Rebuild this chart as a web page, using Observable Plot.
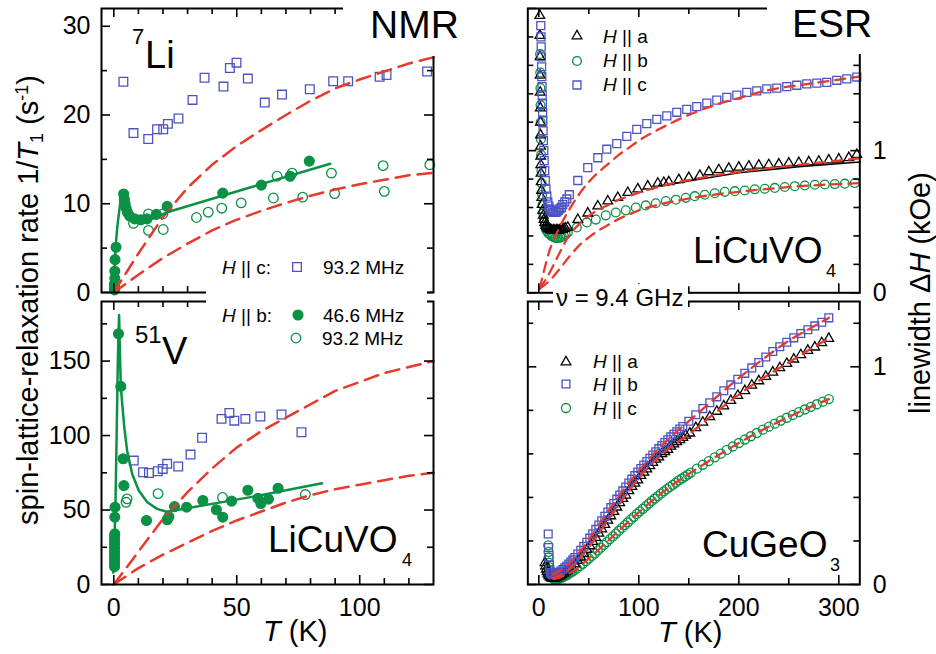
<!DOCTYPE html>
<html>
<head>
<meta charset="utf-8">
<script src="https://cdn.jsdelivr.net/npm/d3@7"></script>
<script src="https://cdn.jsdelivr.net/npm/@observablehq/plot@0.6"></script>
<style>
  html, body { margin: 0; padding: 0; background: #fff; }
  #fig { position: relative; width: 936px; height: 654px; overflow: hidden;
         font-family: 'Liberation Sans', Arial, Helvetica, sans-serif; color: #000; }
  .t { position: absolute; white-space: nowrap; line-height: 1; }
  .box { position: absolute; background: #fff; }
  .t sub, .t sup { font-size: 0.62em; line-height: 0; }
  .t sub { vertical-align: -0.28em; }
  .t sup { vertical-align: 0.55em; }
</style>
</head>
<body>
<div id="fig"></div>
<script>
// ---------- NMR: 7Li, 1/T1 (s^-1) vs T (K) ----------
const liC932 = [[3.9,23.75],[8.0,17.96],[14.0,17.3],[17.6,18.4],[20.1,18.4],[22.0,19.0],[26.3,19.6],[32.0,21.7],[36.9,24.2],[44.6,23.2],[47.2,25.3],[49.9,25.9],[54.5,24.1],[61.4,21.4],[68.4,22.3],[79.7,22.9],[89.2,23.8],[95.3,23.8],[108.1,24.3],[110.9,24.5],[127.4,24.9]];
const liB466 = [[0.3,0.3],[0.3,0.6],[0.3,1.0],[0.4,1.6],[0.4,2.4],[0.5,3.7],[0.9,5.1],[4.0,11.1],[4.3,10.5],[4.6,10.0],[5.0,9.5],[5.6,9.0],[6.5,8.6],[8.5,8.3],[11,8.2],[13.5,8.3],[17.3,8.8],[21.7,9.7],[44.3,11.2],[60.0,12.1],[71.7,13.1],[79.5,14.8]];
const liB932 = [[8.0,7.8],[14.1,8.85],[14.1,7.0],[19.9,8.85],[20.1,7.1],[33.6,8.45],[38.4,9.05],[43.9,9.5],[51.8,10.1],[64.9,10.65],[66.4,13.1],[72.5,13.45],[76.8,10.75],[88.5,13.45],[89.8,11.15],[109.5,14.3],[110.0,11.4],[128.5,14.4]];
const liFit = [[0,0.2],[0.7,5.1],[1.5,7.6],[3.0,10.9],[3.9,11.1],[4.8,9.6],[6.8,8.5],[9.5,8.1],[13.6,8.1],[17.6,8.5],[21.7,9.05],[55,11.8],[88,14.5]];
const liModelHi = [[0,0],[5,2.2],[10,4.4],[20,8.5],[30,11.8],[40,14.4],[50,16.5],[60,18.3],[70,20.0],[80,21.6],[90,23.0],[100,24.0],[110,24.9],[120,25.8],[130,26.5]];
const liModelLo = [[0,0],[10,2.0],[20,3.9],[30,5.5],[40,7.0],[50,8.2],[60,9.2],[70,10.1],[80,10.9],[90,11.6],[100,12.2],[110,12.7],[120,13.2],[130,13.5]];

// ---------- NMR: 51V ----------
const vC932 = [[8.1,83.2],[11.9,75.4],[14.3,74.9],[17.9,76.0],[19.9,77.6],[21.7,81.0],[26.2,79.2],[31.2,87.2],[35.9,98.5],[43.8,111.2],[47.0,115.2],[49.0,110.0],[53.5,111.2],[59.6,112.8],[68.2,114.1],[76.3,102.2]];
const vB466 = [[0.3,12],[0.3,14.5],[0.3,17],[0.3,19.5],[0.3,22],[0.3,24.5],[0.3,27],[0.3,29.5],[0.3,32],[0.4,34],[0.4,45.2],[0.5,51.9],[1.9,168.3],[2.85,133],[3.8,84.4],[4.1,66.4],[13.3,43],[21.7,43.5],[22.4,45.5],[24.7,52.3],[29.6,51.9],[36.2,56.4],[41.7,50.2],[44.3,45.2],[47.9,56],[54.5,63.3],[58.6,57.8],[59.8,54.4],[62.9,57.3],[66.8,64.6]];
const vB932 = [[5.0,55.2],[5.4,57.5],[18.0,61.0],[44.2,58.4],[77.9,60.4]];
const vFit = [[-0.2,8],[0.3,30],[0.7,56],[1.2,105],[1.6,146],[1.9,168],[2.15,181],[2.45,158],[2.85,133],[3.4,122],[4.3,105],[5.4,90],[7.5,74],[10.2,63],[13.6,55.2],[17.6,50.8],[21.5,48.8],[55,58.5],[84.7,68]];
const vModelHi = [[0,0],[10,22],[20,44],[30,62],[40,78],[50,92],[60,103],[70,112],[80,121],[90,130],[100,136],[110,142],[120,146],[130,150]];
const vModelLo = [[0,0],[10,11],[20,20],[30,28],[40,36],[50,43],[60,49],[70,55],[80,60],[90,64],[100,67],[110,70],[120,73],[130,75]];

// ---------- ESR: LiCuVO4 linewidth (kOe) ----------
const esrLA = [[1.0,1.95],[1.1,1.81],[1.2,1.66],[1.3,1.53],[1.4,1.41],[1.5,1.30],[1.6,1.2],[1.7,1.11],[1.8,1.03],[1.9,0.96],[2.0,0.9],[2.2,0.84],[2.4,0.78],[2.7,0.72],[3.0,0.67],[3.4,0.62],[3.9,0.58],[4.5,0.545],[5.2,0.515],[6,0.495],[7,0.475],[8,0.465],[9,0.455],[10,0.45],[11.5,0.445],[13,0.44],[14.5,0.44],[16,0.44],[17.5,0.44],[19,0.44],[20.5,0.44],[22,0.445],[23.5,0.445],[25,0.45],[26.5,0.455],
  [29,0.46],[39,0.515],[49,0.56],[59,0.61],[69,0.645],[79,0.67],[89,0.705],[99,0.73],[109,0.75],[119,0.77],[125,0.775],[130,0.78],[140,0.795],[150,0.81],[161,0.825],[170,0.85],[180,0.865],[190,0.875],[200,0.883],[210,0.89],[220,0.897],[230,0.90],[240,0.905],[250,0.912],[260,0.915],[270,0.92],[280,0.925],[290,0.933],[300,0.94],[310,0.95],[318,0.972]];
const esrLB = [[1.3,1.68],[1.45,1.55],[1.6,1.44],[1.75,1.32],[1.9,1.2],[2.1,1.08],[2.3,0.97],[2.6,0.86],[2.9,0.77],[3.3,0.69],[3.8,0.62],[4.4,0.56],[5.1,0.51],[6,0.475],[7,0.45],[8,0.435],[9.5,0.42],[11,0.41],[12.5,0.40],[14,0.395],[15.5,0.39],[17,0.385],[18.5,0.385],[20,0.385],[21.5,0.39],[23,0.395],[25,0.40],[27,0.41],
  [29,0.425],[38,0.46],[48,0.495],[57,0.515],[67,0.545],[77,0.565],[87,0.58],[97,0.60],[107,0.615],[117,0.63],[127,0.645],[137,0.655],[147,0.668],[156,0.68],[166,0.69],[176,0.70],[186,0.71],[196,0.715],[206,0.72],[216,0.728],[226,0.732],[236,0.738],[246,0.744],[256,0.75],[266,0.755],[276,0.76],[286,0.762],[296,0.765],[306,0.768],[316,0.772]];
const esrLC = [[2.0,1.88],[2.2,1.8],[2.4,1.73],[2.6,1.66],[2.8,1.59],[3.0,1.52],[3.2,1.45],[3.4,1.39],[3.6,1.33],[3.8,1.27],[4.0,1.21],[4.3,1.14],[4.6,1.07],[5.0,1.0],[5.4,0.93],[5.9,0.86],[6.5,0.79],[7.2,0.73],[8,0.68],[9,0.64],[10,0.61],[11,0.59],[12,0.58],[13.5,0.57],[15,0.565],[16.5,0.565],[18,0.57],[19.5,0.58],[21,0.59],[22.5,0.60],[24,0.62],[26,0.64],[28,0.66],[30.5,0.69],
  [39,0.79],[49,0.88],[59,0.95],[68,1.01],[78,1.05],[88,1.10],[98,1.15],[108,1.19],[118,1.22],[128,1.245],[138,1.27],[148,1.29],[158,1.31],[168,1.335],[178,1.355],[188,1.375],[198,1.39],[208,1.41],[218,1.42],[228,1.435],[238,1.44],[248,1.45],[258,1.46],[268,1.47],[278,1.475],[288,1.48],[298,1.495],[308,1.505],[318,1.518]];
const esrLFitA = [[125,0.755],[150,0.786],[200,0.845],[260,0.887],[321,0.92]];
const esrLModelA = [[1,0.03],[10,0.13],[20,0.27],[30,0.40],[40,0.48],[50,0.54],[60,0.585],[70,0.62],[80,0.655],[90,0.68],[100,0.705],[120,0.745],[140,0.78],[160,0.805],[180,0.83],[200,0.85],[220,0.868],[240,0.885],[260,0.90],[280,0.915],[300,0.93],[320,0.945]];
const esrLModelB = [[1,0.03],[10,0.08],[20,0.16],[30,0.25],[40,0.33],[50,0.39],[60,0.44],[70,0.48],[80,0.52],[90,0.55],[100,0.58],[120,0.62],[140,0.65],[160,0.675],[180,0.695],[200,0.71],[220,0.725],[240,0.738],[260,0.75],[280,0.758],[300,0.765],[320,0.772]];
const esrLModelC = [[1,0.03],[5,0.15],[10,0.28],[20,0.45],[30,0.58],[40,0.69],[50,0.78],[60,0.85],[70,0.91],[80,0.97],[90,1.02],[100,1.07],[120,1.15],[140,1.22],[160,1.28],[180,1.33],[200,1.37],[220,1.41],[240,1.44],[260,1.46],[280,1.48],[300,1.50],[320,1.52]];

// ---------- ESR: CuGeO3 linewidth (kOe) ----------
const esrGA = [[6.2,0.10],[6.8,0.085],[7.5,0.07],[8.3,0.058],[9.2,0.048],[10.2,0.04],[11.3,0.034],[12.5,0.03],[14,0.028],[15.5,0.028],[17,0.03],[19,0.034],[21,0.039],[23,0.045],[25,0.051],[27,0.058],[29,0.065],[31,0.073],[33,0.081],[36,0.095],[39,0.11],[42,0.125],[45,0.142],[48,0.16],[51,0.178],[54,0.197],[57,0.216],[60,0.235],[63,0.255],[66,0.275],[69,0.295],[72,0.315],[75,0.335],[78,0.355],[81,0.375],[84,0.395],[87,0.41],[90,0.43],[93,0.45],[96,0.465],[99,0.48],[102,0.50],[105,0.515],[108,0.53],[111,0.545],[114,0.56],[117,0.575],[120,0.585],[123,0.60],[126,0.61],[129,0.62],[132,0.635],[135,0.645],[138,0.655],[141,0.665],[144,0.675],[147,0.685],[151,0.695],[157,0.72],[164,0.745],[171,0.77],[178,0.795],[185,0.82],[192,0.845],[199,0.868],[206,0.89],[213,0.915],[220,0.935],[227,0.955],[234,0.975],[241,0.995],[248,1.015],[255,1.035],[262,1.055],[269,1.075],[276,1.09],[283,1.11],[290,1.13]];
const esrGB = [[9.4,0.232],[9.8,0.17],[10.2,0.125],[10.6,0.09],[11.1,0.068],[11.7,0.055],[12.5,0.048],[13.5,0.045],[15,0.045],[16.5,0.047],[18,0.05],[20,0.056],[22,0.062],[24,0.069],[26,0.077],[28,0.085],[30,0.094],[32,0.103],[34,0.113],[36,0.124],[39,0.14],[42,0.157],[45,0.175],[48,0.194],[51,0.213],[54,0.233],[57,0.253],[60,0.273],[63,0.293],[66,0.313],[69,0.333],[72,0.353],[75,0.372],[78,0.392],[81,0.411],[84,0.43],[87,0.448],[90,0.466],[93,0.484],[96,0.50],[99,0.517],[102,0.533],[105,0.549],[108,0.565],[111,0.58],[114,0.595],[117,0.61],[120,0.624],[123,0.638],[126,0.652],[129,0.665],[132,0.678],[135,0.69],[138,0.702],[141,0.714],[144,0.726],[150,0.75],[157,0.78],[164,0.808],[171,0.835],[178,0.862],[185,0.89],[192,0.917],[199,0.943],[206,0.97],[213,0.995],[220,1.02],[227,1.045],[234,1.07],[241,1.092],[248,1.113],[255,1.133],[262,1.153],[269,1.17],[276,1.188],[283,1.205],[290,1.225]];
const esrGC = [[9.4,0.18],[9.7,0.15],[9.9,0.125],[10.2,0.1],[10.5,0.08],[11,0.062],[11.6,0.048],[12.4,0.038],[13.4,0.03],[14.6,0.026],[16,0.024],[17.5,0.024],[19,0.025],[21,0.028],[23,0.032],[25,0.036],[27,0.041],[29,0.046],[31,0.052],[33,0.058],[35,0.064],[38,0.074],[41,0.084],[44,0.095],[47,0.107],[50,0.119],[53,0.131],[56,0.143],[59,0.156],[62,0.169],[65,0.182],[68,0.195],[71,0.208],[74,0.221],[77,0.234],[80,0.247],[83,0.26],[86,0.273],[89,0.286],[92,0.299],[95,0.311],[98,0.324],[101,0.336],[104,0.348],[107,0.36],[110,0.372],[113,0.384],[116,0.395],[119,0.406],[122,0.417],[125,0.428],[128,0.438],[131,0.448],[134,0.458],[137,0.468],[140,0.478],[143,0.487],[146,0.496],[149,0.505],[152,0.514],[158,0.532],[164,0.55],[170,0.567],[176,0.584],[182,0.601],[188,0.618],[194,0.634],[200,0.65],[206,0.666],[212,0.681],[218,0.696],[224,0.711],[230,0.725],[236,0.739],[242,0.753],[248,0.766],[254,0.779],[260,0.792],[266,0.804],[272,0.816],[278,0.828],[284,0.84],[290,0.852]];
const esrGModelA = [[14,0.028],[30,0.069],[50,0.172],[70,0.30],[90,0.43],[110,0.54],[130,0.625],[150,0.69],[170,0.765],[190,0.838],[210,0.905],[230,0.965],[250,1.02],[270,1.077],[290,1.13]];
const esrGModelB = [[14,0.045],[30,0.094],[50,0.206],[70,0.34],[90,0.466],[110,0.575],[130,0.67],[150,0.75],[170,0.83],[190,0.91],[210,0.985],[230,1.055],[250,1.12],[270,1.173],[290,1.225]];
const esrGModelC = [[15,0.025],[30,0.049],[50,0.119],[70,0.204],[90,0.29],[110,0.372],[130,0.445],[150,0.508],[170,0.567],[190,0.623],[210,0.676],[230,0.725],[250,0.77],[270,0.812],[290,0.852]];

// ---------- tick values ----------
const nmrXMajor = [0, 50, 100];
const nmrXMinor = [10, 20, 30, 40, 60, 70, 80, 90, 110, 120];
const liYMajor = [0, 10, 20, 30];
const liYMinor = [5, 15, 25];
const vYMajor = [0, 50, 100, 150];
const vYMinor = [25, 75, 125, 175];
const esrXMajor = [0, 100, 200, 300];
const esrXMinor = [50, 150, 250];
const esrLYMajor = [0, 1, 2];
const esrLYMinor = [0.2, 0.4, 0.6, 0.8, 1.2, 1.4, 1.6, 1.8];
const esrGYMajor = [0, 1];
const esrGYMinor = [0.2, 0.4, 0.6, 0.8, 1.2];
const yTickLabelsESR = [0, 1];

const GREEN = "#0a9146", BLUE = "#4b53c3", RED = "#e63a2c", BLACK = "#000";
const FONT = "'Liberation Sans', Arial, Helvetica, sans-serif";
const fig = document.getElementById("fig");

const pts = (data, symbol, color, r, filled = false) =>
  Plot.dot(data, {x: d => d[0], y: d => d[1], symbol, r, stroke: color,
                  fill: filled ? color : "none", strokeWidth: 1.3});
const curve = (data, color, dash, w = 2.5, c = "linear") =>
  Plot.line(data, {x: d => d[0], y: d => d[1], stroke: color, strokeWidth: w,
                   strokeDasharray: dash, curve: c});

// one framed panel with inward ticks on all four sides
function makePanel(cfg) {
  const {left, top, width, height, margin: [mt, mr, mb, ml], xDomain, yDomain,
         xMajor, xMinor, yMajor, yMinor, xLabels = [], yLabels = [], ySide = "left", marks} = cfg;
  const iw = width - ml - mr, ih = height - mt - mb;
  const tx = (vals, len) => [
    Plot.tickX(vals, {x: d => d, insetTop: ih - len, strokeWidth: 1.6}),
    Plot.tickX(vals, {x: d => d, insetBottom: ih - len, strokeWidth: 1.6})
  ];
  const ty = (vals, len) => [
    Plot.tickY(vals, {y: d => d, insetRight: iw - len, strokeWidth: 1.6}),
    Plot.tickY(vals, {y: d => d, insetLeft: iw - len, strokeWidth: 1.6})
  ];
  const svg = Plot.plot({
    width, height, marginTop: mt, marginRight: mr, marginBottom: mb, marginLeft: ml,
    x: {domain: xDomain, axis: null},
    y: {domain: yDomain, axis: null},
    style: {background: "transparent", overflow: "visible", fontFamily: FONT},
    marks: [
      ...marks,
      ...tx(xMajor, 9), ...tx(xMinor, 6), ...ty(yMajor, 9), ...ty(yMinor, 6),
      Plot.frame({strokeWidth: 2}),
      Plot.text(xLabels, {x: d => d, text: d => String(d), frameAnchor: "bottom", lineAnchor: "top",
                          dy: 14, fontSize: 25, fontFamily: FONT}),
      Plot.text(yLabels, {y: d => d, text: d => String(d), frameAnchor: ySide,
                          textAnchor: ySide === "left" ? "end" : "start",
                          dx: ySide === "left" ? -11 : 13, fontSize: 25, fontFamily: FONT})
    ]
  });
  svg.style.position = "absolute";
  svg.style.left = left + "px";
  svg.style.top = top + "px";
  fig.appendChild(svg);
}

// 7Li panel
makePanel({
  left: 0, top: 0, width: 470, height: 300, margin: [8, 37, 8, 101],
  xDomain: [-5, 130], yDomain: [0, 32],
  xMajor: nmrXMajor, xMinor: nmrXMinor, yMajor: liYMajor, yMinor: liYMinor,
  yLabels: liYMajor,
  marks: [
    pts(liC932, "square", BLUE, 4.9),
    pts(liB932, "circle", GREEN, 4.8),
    pts(liB466, "circle", GREEN, 4.9, true),
    curve(liModelHi, RED, "14,8"),
    curve(liModelLo, RED, "14,8"),
    curve(liFit, GREEN, null, 2.5)
  ]
});

// 51V panel
makePanel({
  left: 0, top: 296, width: 470, height: 358, margin: [5, 37, 70, 101],
  xDomain: [-5, 130], yDomain: [0, 190],
  xMajor: nmrXMajor, xMinor: nmrXMinor, yMajor: vYMajor, yMinor: vYMinor,
  xLabels: nmrXMajor, yLabels: vYMajor,
  marks: [
    pts(vC932, "square", BLUE, 4.9),
    pts(vB932, "circle", GREEN, 4.8),
    pts(vB466, "circle", GREEN, 4.9, true),
    curve(vModelHi, RED, "14,8"),
    curve(vModelLo, RED, "14,8"),
    curve(vFit, GREEN, null, 2.5)
  ]
});

// LiCuVO4 ESR panel
makePanel({
  left: 470, top: 0, width: 466, height: 300, margin: [8, 76.7, 7.7, 57.3],
  xDomain: [-11, 321], yDomain: [0, 2.0],
  xMajor: esrXMajor, xMinor: esrXMinor, yMajor: esrLYMajor, yMinor: esrLYMinor,
  yLabels: yTickLabelsESR, ySide: "right",
  marks: [
    pts(esrLB, "circle", GREEN, 4.4),
    pts(esrLA, "triangle", BLACK, 3.6),
    pts(esrLC, "square", BLUE, 4.5),
    curve(esrLFitA, BLACK, null, 1.6),
    curve(esrLModelA, RED, "10,7", 2.3, "monotone-x"),
    curve(esrLModelB, RED, "10,7", 2.3, "monotone-x"),
    curve(esrLModelC, RED, "10,7", 2.3, "monotone-x")
  ]
});

// CuGeO3 ESR panel
makePanel({
  left: 470, top: 296, width: 466, height: 358, margin: [5, 76.7, 70, 57.3],
  xDomain: [-11, 321], yDomain: [0, 1.3],
  xMajor: esrXMajor, xMinor: esrXMinor, yMajor: esrGYMajor, yMinor: esrGYMinor,
  xLabels: esrXMajor, yLabels: yTickLabelsESR, ySide: "right",
  marks: [
    pts(esrGC, "circle", GREEN, 4.5),
    pts(esrGA, "triangle", BLACK, 3.6),
    pts(esrGB, "square", BLUE, 4.4),
    curve(esrGModelA, RED, "10,7", 2.3, "monotone-x"),
    curve(esrGModelB, RED, "10,7", 2.3, "monotone-x"),
    curve(esrGModelC, RED, "10,7", 2.3, "monotone-x")
  ]
});

// ---------- overlays: white label boxes, text, legends ----------
function box(x, y, w, h) {
  const el = document.createElement("div");
  el.className = "box";
  Object.assign(el.style, {left: x + "px", top: y + "px", width: w + "px", height: h + "px"});
  fig.appendChild(el);
}
function text(html, x, baseline, size) {
  const el = document.createElement("div");
  el.className = "t";
  el.style.fontSize = size + "px";
  el.style.left = x + "px";
  el.style.top = (baseline - 0.8465 * size) + "px";
  el.innerHTML = html;
  fig.appendChild(el);
  return el;
}
function vtext(html, cx, cy, size) {
  const el = document.createElement("div");
  el.className = "t";
  Object.assign(el.style, {fontSize: size + "px", left: cx + "px", top: cy + "px",
    transformOrigin: "0 0", transform: "rotate(-90deg) translate(-50%, -50%)"});
  el.innerHTML = html;
  fig.appendChild(el);
}
function symbolAt(type, cx, cy, r, color, filled = false) {
  const s = Math.ceil(r * 3) + 4;
  const svg = d3.create("svg").attr("width", 2 * s).attr("height", 2 * s)
    .style("position", "absolute").style("left", (cx - s) + "px").style("top", (cy - s) + "px")
    .style("overflow", "visible");
  svg.append("path").attr("d", d3.symbol(type, Math.PI * r * r)())
    .attr("transform", `translate(${s},${s})`)
    .attr("fill", filled ? color : "none").attr("stroke", color).attr("stroke-width", 1.3);
  fig.appendChild(svg.node());
}

box(343, 0, 125, 56);      // behind "NMR"
box(767, 0, 115, 54);      // behind "ESR"
box(206, 281, 221, 31);    // NMR legend strip between panels
box(553, 284, 135, 27);    // behind frequency note

text("NMR", 370, 38, 39);
text("ESR", 792, 37, 39);
text("7", 132, 45, 22);
text("Li", 145, 68, 38);
text("51", 135, 343, 24);
text("V", 162, 364, 38);
text("LiCuVO", 268, 552, 37);
text("4", 402, 566, 18);
text("LiCuVO", 693, 263, 37);
text("4", 826, 277, 18);
text("CuGeO", 702, 557, 37);
text("3", 830, 571, 18);
text("&nu; = 9.4 GHz", 556, 306, 24);

// NMR legend
text("<i>H</i> || c:", 222, 274, 19);
symbolAt(d3.symbolSquare, 297, 267, 4.9, BLUE);
text("93.2 MHz", 323, 274, 19);
text("<i>H</i> || b:", 222, 322, 19);
symbolAt(d3.symbolCircle, 298, 315, 4.9, GREEN, true);
text("46.6 MHz", 323, 322, 19);
symbolAt(d3.symbolCircle, 296, 338, 4.8, GREEN);
text("93.2 MHz", 322, 345, 19);

// LiCuVO4 ESR legend
symbolAt(d3.symbolTriangle, 577, 36, 3.6, BLACK);
text("<i>H</i> || a", 603, 43, 19);
symbolAt(d3.symbolCircle, 577, 61, 4.4, GREEN);
text("<i>H</i> || b", 603, 67, 19);
symbolAt(d3.symbolSquare, 577, 85, 4.5, BLUE);
text("<i>H</i> || c", 603, 91, 19);

// CuGeO3 ESR legend
symbolAt(d3.symbolTriangle, 566, 362, 3.6, BLACK);
text("<i>H</i> || a", 593, 368, 19);
symbolAt(d3.symbolSquare, 566, 384, 4.4, BLUE);
text("<i>H</i> || b", 593, 391, 19);
symbolAt(d3.symbolCircle, 566, 408, 4.5, GREEN);
text("<i>H</i> || c", 593, 415, 19);

// axis titles
text("<i>T</i> (K)", 263, 642, 29);
text("<i>T</i> (K)", 658, 643, 29);
vtext("spin-lattice-relaxation rate 1/<i>T</i><sub>1</sub> (s<sup>-1</sup>)", 28, 300, 29);
vtext("linewidth &Delta;<i>H</i> (kOe)", 920, 293, 29);
</script>
</body>
</html>
